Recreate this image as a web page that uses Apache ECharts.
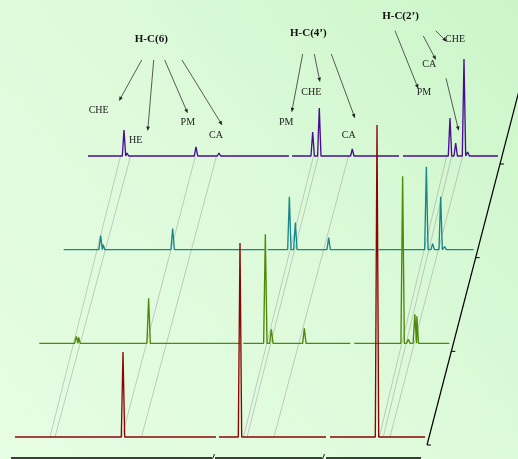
<!DOCTYPE html>
<html><head><meta charset="utf-8">
<script src="https://cdn.jsdelivr.net/npm/echarts@6/dist/echarts.min.js"></script>
<style>html,body{margin:0;padding:0;background:#dff9dc;}#c{width:518px;height:459px;}</style>
</head><body><div id="c"></div>
<script>
// ---------------- DATA (display units along the broken shift axis; heights in intensity units) -------------
const SEGMENTS = [[0, 201], [204, 311], [315, 410]];          // pieces of the broken shift axis
const spectrumNames = ['Spectrum 1', 'Spectrum 2', 'Spectrum 3', 'Spectrum 4'];

const redPos  = [108, 142, 225, 297, 340, 362, 382, 388, 397];
const redH    = [85, 1.2, 194, 1.2, 1.5, 312, 1.2, 1.2, 1.2];

const greenPos = [37, 39.3, 109.3, 132.7, 226, 232, 265, 363.3, 369, 375.5, 377.5, 381];
const greenH   = [7, 6, 45, 2, 109, 14, 15, 167, 4, 29, 27, 2];

const tealPos = [37, 39.5, 109, 132, 225.7, 231.7, 265, 362.7, 369, 377, 381];
const tealH   = [14, 5, 21, 1.5, 53, 27, 12, 83, 6, 53, 3];

const purplePos = [36, 39, 108, 131, 224.7, 231.3, 264.3, 362, 367.7, 376, 379.7, 382.5];
const purpleH   = [26, 3, 9, 3, 24, 48, 7, 38, 13, 97, 4, 2];

// guide lines: position on front spectrum -> position on back spectrum
const guideFront = [35, 40, 107, 126.5, 228.5, 232, 259, 364.3, 368.3, 375];
const guideBack  = [32.6, 42.6, 107.5, 128.5, 225.5, 230.5, 260.5, 358.7, 363.7, 374.7];

const depthTicks = [0, 1, 2, 3];

const headerTexts = ['H-C(6)', 'H-C(4\u2019)', 'H-C(2\u2019)'];
const labelTexts = ['CHE', 'HE', 'PM', 'CA', 'PM', 'CHE', 'CA', 'PM', 'CA', 'CHE'];

// ---------------- LAYOUT / STYLE -------------
const X0 = 15, BASE0 = 437, DX = 24.33, DY = 93.67, XSPAN = 410, TOPM = 20, HW = 1.7;
const colors = ['#8c0505', '#4e8a06', '#17878a', '#4a0c98'];
const headerPos = [[151.3, 39.5], [308.3, 33.5], [400.5, 15.8]];
const labelPos = [[98.7, 110.7], [135.7, 140.7], [187.8, 122.7], [216, 135], [286.2, 122.7],
                  [311.3, 92.7], [348.7, 135], [424, 92.7], [429.2, 64.3], [455, 39]];
const arrows = [
  [141.7, 60, 119, 101], [153.7, 60, 147.7, 131], [164.7, 60, 187.7, 113.3], [182, 60, 222.3, 125.3],
  [302.7, 54, 291.7, 112.3], [314.3, 54, 320, 82], [331.3, 54, 355, 118.3],
  [395, 30.7, 418.3, 88.7], [423.3, 36, 436, 60], [435.7, 30.7, 446.7, 41.7], [446, 78.3, 458.7, 130.7]
];

function buildLine(pos, h) {
  const peaks = pos.map((p, i) => [p, h[i]]).sort((a, b) => a[0] - b[0]);
  const out = [];
  SEGMENTS.forEach((seg, si) => {
    out.push([seg[0], 0]);
    peaks.filter(p => p[0] >= seg[0] && p[0] <= seg[1]).forEach(p => {
      out.push([p[0] - HW, 0], [p[0], p[1]], [p[0] + HW, 0]);
    });
    out.push([seg[1], 0]);
    if (si < SEGMENTS.length - 1) out.push([(seg[1] + SEGMENTS[si + 1][0]) / 2, '-']);
  });
  return out;
}

const allPos = [redPos, greenPos, tealPos, purplePos];
const allH = [redH, greenH, tealH, purpleH];

const grids = [], xAxes = [], yAxes = [], series = [];
for (let i = 0; i < 4; i++) {
  const base = BASE0 - i * DY;
  grids.push({ left: X0 + i * DX, width: XSPAN, top: TOPM, height: base - TOPM });
  xAxes.push({ type: 'value', gridIndex: i, min: 0, max: XSPAN, show: false });
  yAxes.push({ type: 'value', gridIndex: i, min: 0, max: base - TOPM, show: false });
}
for (let i = 3; i >= 0; i--) {
  series.push({
    name: spectrumNames[i], type: 'line', xAxisIndex: i, yAxisIndex: i,
    data: buildLine(allPos[i], allH[i]), showSymbol: false, symbol: 'none',
    connectNulls: false, clip: false, silent: true,
    lineStyle: { color: colors[i], width: 1.35 }, z: 5
  });
}
series.unshift({
  type: 'custom', xAxisIndex: 0, yAxisIndex: 0, silent: true, z: 1, clip: false,
  data: guideFront.map((f, i) => [f, 0, guideBack[i]]),
  encode: { x: [0, 2], y: 1 },
  renderItem: (params, api) => {
    const p0 = api.coord([api.value(0), 0]);
    const p1 = api.coord([api.value(2), 0]);
    return { type: 'line', shape: { x1: p0[0], y1: p0[1], x2: p1[0] + 3 * DX, y2: p1[1] - 3 * DY },
      style: { stroke: 'rgba(150,150,150,0.6)', lineWidth: 0.8 } };
  }
});

// decorations: axes, annotations
const graphic = [];
const AX_Y = 458, AX_OFF = X0 - 4;
SEGMENTS.forEach((seg, si) => {
  graphic.push({ type: 'line', silent: true, shape: { x1: AX_OFF + seg[0], y1: AX_Y, x2: AX_OFF + seg[1], y2: AX_Y },
    style: { stroke: '#000', lineWidth: 1.3 } });
  if (si > 0) {
    const gx = AX_OFF + SEGMENTS[si - 1][1];
    graphic.push({ type: 'line', silent: true, shape: { x1: gx + 0.5, y1: AX_Y + 1, x2: gx + 2.5, y2: AX_Y - 4 },
      style: { stroke: '#000', lineWidth: 0.9 } });
  }
});
const DA_X = X0 + XSPAN + 2, DA_Y = BASE0 + 8;
graphic.push({ type: 'line', silent: true, shape: { x1: DA_X, y1: DA_Y, x2: DA_X + 3.9 * DX, y2: DA_Y - 3.9 * DY },
  style: { stroke: '#000', lineWidth: 1.2 } });
depthTicks.forEach(d => {
  graphic.push({ type: 'line', silent: true, shape: { x1: DA_X + d * DX, y1: DA_Y - d * DY, x2: DA_X + d * DX + 4, y2: DA_Y - d * DY },
    style: { stroke: '#000', lineWidth: 1 } });
});
arrows.forEach(a => {
  const [x1, y1, x2, y2] = a;
  const ang = Math.atan2(y2 - y1, x2 - x1), L = 4.5, Wd = 1.8;
  const bx = x2 - L * Math.cos(ang), by = y2 - L * Math.sin(ang);
  const nx = -Math.sin(ang), ny = Math.cos(ang);
  graphic.push({ type: 'line', silent: true, shape: { x1, y1, x2: bx, y2: by }, style: { stroke: '#333', lineWidth: 0.8 } });
  graphic.push({ type: 'polygon', silent: true,
    shape: { points: [[x2, y2], [bx + nx * Wd, by + ny * Wd], [bx - nx * Wd, by - ny * Wd]] },
    style: { fill: '#222' } });
});
headerTexts.forEach((t, i) => {
  graphic.push({ type: 'text', silent: true, x: headerPos[i][0], y: headerPos[i][1],
    style: { text: t, font: 'bold 11px "Liberation Serif"', fill: '#111', align: 'center', verticalAlign: 'middle' } });
});
labelTexts.forEach((t, i) => {
  graphic.push({ type: 'text', silent: true, x: labelPos[i][0], y: labelPos[i][1],
    style: { text: t, font: '10px "Liberation Serif"', fill: '#222', align: 'center', verticalAlign: 'middle' } });
});

const chart = echarts.init(document.getElementById('c'), null, { renderer: 'canvas' });
chart.setOption({
  animation: false,
  backgroundColor: { type: 'linear', x: 0, y: 1, x2: 1, y2: 0,
    colorStops: [{ offset: 0, color: '#e6fde4' }, { offset: 0.55, color: '#dcfad9' }, { offset: 1, color: '#cbf5c9' }] },
  grid: grids, xAxis: xAxes, yAxis: yAxes, series: series, graphic: graphic
});
</script></body></html>
